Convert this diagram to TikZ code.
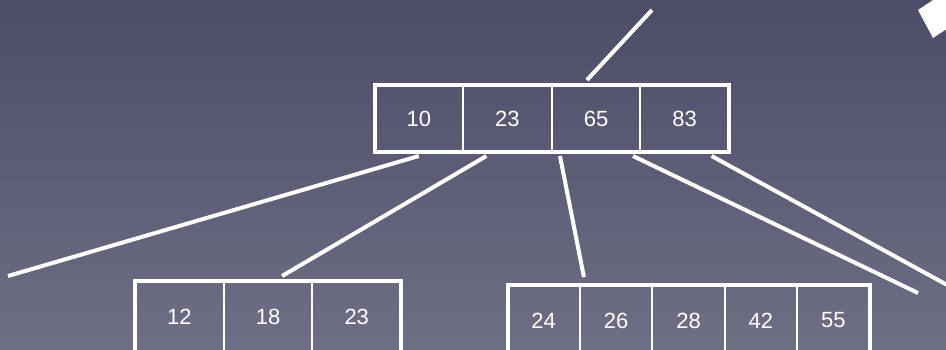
\documentclass[tikz,border=0pt]{standalone}
\usepackage{fontspec}
\setmainfont{Liberation Sans}
\usetikzlibrary{positioning, fit, calc}
\definecolor{bgtop}{RGB}{76,76,104}
\definecolor{bgbot}{RGB}{110,110,132}

\begin{document}
\begin{tikzpicture}[
    x=1pt, y=-1pt,
    every node/.style={font=\fontsize{22}{26}\selectfont, text=white},
    cell/.style={rectangle, draw=white, line width=2pt, inner sep=0pt, outer sep=0pt},
    topcell/.style={cell, minimum width=88.6pt, minimum height=67pt},
    leftcell/.style={cell, minimum width=88.7pt, minimum height=72pt},
    rightcell/.style={cell, minimum width=72.4pt, minimum height=72pt},
    frame/.style={rectangle, draw=white, line width=4pt, inner sep=0pt, outer sep=0pt},
    link/.style={draw=white, line width=4pt}
]

% --- background ---
\useasboundingbox (0,0) rectangle (946,349);
\shade[top color=bgtop, bottom color=bgbot] (0,0) rectangle (946,349);
\clip (0,0) rectangle (946,349);

% --- root page ---
\node[topcell] (k1) at (418.8,118.5) {10};
\node[topcell, right=0pt of k1] (k2) {23};
\node[topcell, right=0pt of k2] (k3) {65};
\node[topcell, right=0pt of k3] (k4) {83};
\node[frame, fit=(k1)(k4)] (root) {};

% --- left child page ---
\node[leftcell] (l1) at (179.35,317) {12};
\node[leftcell, right=0pt of l1] (l2) {18};
\node[leftcell, right=0pt of l2] (l3) {23};
\node[frame, fit=(l1)(l3)] (leftpage) {};

% --- right child page ---
\node[rightcell] (r1) at (543.7,320.5) {24};
\node[rightcell, right=0pt of r1] (r2) {26};
\node[rightcell, right=0pt of r2] (r3) {28};
\node[rightcell, right=0pt of r3] (r4) {42};
\node[rightcell, right=0pt of r4] (r5) {55};
\node[frame, fit=(r1)(r5)] (rightpage) {};

% --- pointers ---
\coordinate (parent)   at (652,10);
\coordinate (farleft)  at (8,276);
\coordinate (farright) at (918,293);
\coordinate (offright) at (960,292);

\draw[link] ([xshift=-9pt,yshift=5pt]k3.north) -- (parent);
\draw[link] ([yshift=-4pt]k1.south) -- (farleft);
\draw[link] ([xshift=-21pt,yshift=-4pt]k2.south) -- ([xshift=14pt,yshift=5pt]l2.north);
\draw[link] ([xshift=-36pt,yshift=-4pt]k3.south) -- ([xshift=4pt,yshift=7.5pt]r1.north east);
\draw[link] ([xshift=37pt,yshift=-4pt]k3.south) -- (farright);
\draw[link] ([xshift=27pt,yshift=-4pt]k4.south) -- (offright);

% corner marker
\fill[white] (918,10) -- (951,-12) -- (966,16) -- (933,38) -- cycle;

\end{tikzpicture}
\end{document}
